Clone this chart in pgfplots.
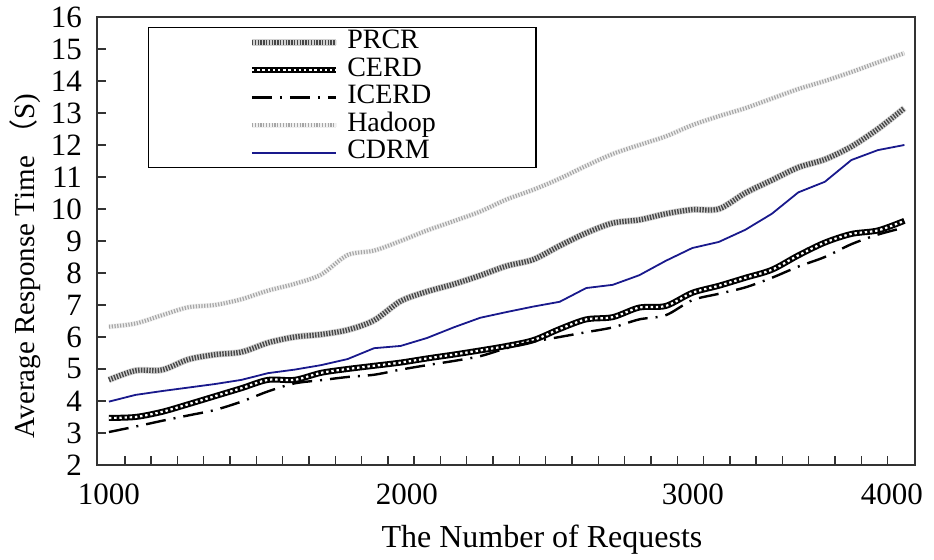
\documentclass[border=0pt]{standalone}
\usepackage{pgfplots}
\pgfplotsset{compat=1.18}
\usepackage{fontspec}
\setmainfont{Liberation Serif}
\newfontfamily\cjk{Noto Sans CJK SC}
\definecolor{cdrm}{RGB}{25,25,140}
\pgfplotstableread{
x     PRCR   CERD  ICERD  Hadoop  CDRM
1000  4.66   3.47  3.03   6.32    3.98
1100  4.95   3.50  3.20   6.42    4.19
1200  4.97   3.66  3.38   6.68    4.31
1300  5.30   3.90  3.55   6.93    4.42
1400  5.45   4.15  3.72   7.00    4.53
1500  5.53   4.40  3.98   7.18    4.66
1600  5.82   4.66  4.30   7.45    4.87
1700  6.00   4.66  4.55   7.66    4.98
1800  6.08   4.88  4.65   7.95    5.12
1900  6.22   5.00  4.75   8.56    5.31
2000  6.52   5.10  4.82   8.70    5.65
2100  7.12   5.20  4.98   9.00    5.72
2200  7.42   5.33  5.12   9.33    5.97
2300  7.65   5.45  5.25   9.62    6.30
2400  7.92   5.58  5.40   9.92    6.60
2500  8.22   5.72  5.65   10.30   6.78
2600  8.42   5.90  5.85   10.60   6.95
2700  8.85   6.25  6.00   10.95   7.10
2800  9.25   6.55  6.15   11.35   7.53
2900  9.56   6.62  6.30   11.72   7.63
3000  9.66   6.92  6.55   12.00   7.93
3100  9.85   6.97  6.68   12.27   8.38
3200  9.98   7.38  7.15   12.62   8.78
3300  10.00  7.60  7.35   12.90   8.97
3400  10.50  7.85  7.55   13.15   9.35
3500  10.90  8.10  7.85   13.45   9.85
3600  11.30  8.55  8.20   13.75   10.52
3700  11.55  8.95  8.50   14.00   10.85
3800  11.95  9.22  8.90   14.28   11.53
3900  12.50  9.33  9.20   14.58   11.84
4000  13.15  9.63  9.42   14.87   12.00
}\datatable
\begin{document}
\begin{tikzpicture}
\begin{axis}[
  name=ax, scale only axis, width=409pt, height=224pt,
  xmin=955, xmax=4040, ymin=2, ymax=16,
  axis line style={draw=black!80, line width=0.8pt},
  tick align=inside, major tick length=4.5pt,
  tick style={draw=black!80, line width=0.7pt},
  ytick={2,...,16}, ytick pos=left,
  xtick={1060,1159.2,...,3940}, xticklabels={}, xtick pos=bottom,
  extra x ticks={1000,2124,3202,3953},
  extra x tick labels={1000,2000,3000,4000},
  extra x tick style={tick style={draw=none}},
  /pgf/number format/assume math mode=true,
  tick label style={font=\fontsize{15.5}{18}\selectfont},
  xticklabel style={yshift=-6pt},
  yticklabel style={xshift=-4pt},
  xlabel={The Number of Requests},
  xlabel style={font=\fontsize{16}{18}\selectfont, at={(axis description cs:0.544,-0.167)}, anchor=center},
  ylabel={Average Response Time {\cjk （}S)},
  ylabel style={font=\fontsize{14.5}{16}\selectfont, at={(axis description cs:-0.088,0.444)}, anchor=center},
  legend image code/.code={\draw[#1] (0pt,0pt) -- (42pt,0pt);},
  legend cell align=left,
  legend style={at={(axis description cs:0.0623,0.978)}, anchor=north west,
    draw=black, line width=0.7pt, fill=white,
    inner xsep=50pt, inner ysep=0.5pt, row sep=0pt,
    font=\fontsize{14}{14}\selectfont,
    nodes={inner sep=0pt, text height=10pt, text depth=3.8pt},
    /tikz/every odd column/.append style={column sep=4pt}},
]
\addplot[smooth, draw=black!72, line width=2.6pt, dash pattern=on 0.7pt off 0.7pt,
  preaction={draw=gray!35, line width=3.3pt, solid}] table[x=x,y=PRCR]{\datatable};
\addlegendentry{PRCR}
\addplot[smooth, draw=black, line width=3pt,
  postaction={draw=white, line width=1.1pt, dash pattern=on 1.2pt off 1.4pt}] table[x=x,y=CERD]{\datatable};
\addlegendentry{CERD}
\addplot[smooth, draw=black, line width=1.2pt, dash pattern=on 10pt off 4pt on 1pt off 4pt] table[x=x,y=ICERD]{\datatable};
\addlegendentry{ICERD}
\addplot[smooth, draw=gray!70, line width=2pt, dash pattern=on 0.6pt off 0.8pt,
  preaction={draw=gray!12, line width=2.6pt, solid}] table[x=x,y=Hadoop]{\datatable};
\addlegendentry{Hadoop}
\addplot[draw=cdrm, line width=0.9pt] table[x=x,y=CDRM]{\datatable};
\addlegendentry{CDRM}
\coordinate (O) at (rel axis cs:0,0);
\end{axis}
\pgfresetboundingbox
\path[use as bounding box] ([xshift=-48.5pt,yshift=-47.5pt]O) rectangle ([xshift=418.5pt,yshift=232.5pt]O);
\end{tikzpicture}
\end{document}
